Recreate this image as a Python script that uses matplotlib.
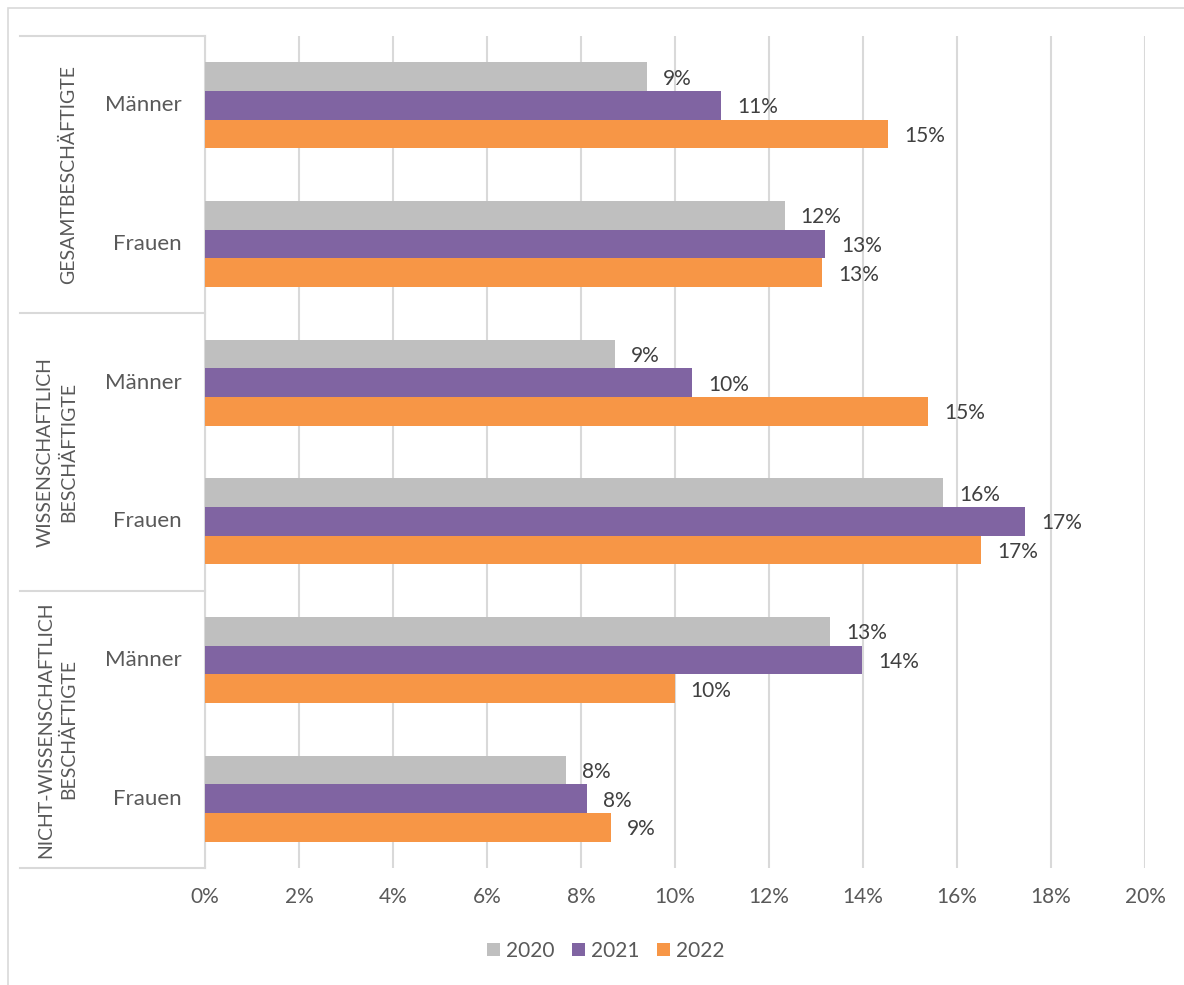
import matplotlib
matplotlib.use("Agg")
import matplotlib.pyplot as plt
from matplotlib.patches import Rectangle
from matplotlib.lines import Line2D
from matplotlib.transforms import blended_transform_factory
import numpy as np

# Data (share in percent)
groups = ["GESAMTBESCHÄFTIGTE",
          "WISSENSCHAFTLICH\nBESCHÄFTIGTE",
          "NICHT-WISSENSCHAFTLICH\nBESCHÄFTIGTE"]
genders = ["Männer", "Frauen"]
years = ["2020", "2021", "2022"]
values_2020 = [9.4, 12.33, 8.72, 15.7, 13.3, 7.68]
values_2021 = [10.98, 13.2, 10.37, 17.45, 13.98, 8.12]
values_2022 = [14.53, 13.13, 15.38, 16.52, 9.99, 8.63]
x_ticks = [0, 2, 4, 6, 8, 10, 12, 14, 16, 18, 20]

colors = ["#BFBFBF", "#8064A2", "#F79646"]
text_dark = "#404040"
text_mid = "#595959"
grid_col = "#D9D9D9"

plt.rcParams["font.family"] = ["Lato", "DejaVu Sans"]

W, H = 1184, 985
fig = plt.figure(figsize=(W / 100, H / 100), dpi=100)

# outer chart border
fig.patches.append(Rectangle((8 / W, -0.01), 1.1, 1 - 8 / H + 0.01,
                             transform=fig.transFigure, fill=False,
                             edgecolor=grid_col, linewidth=1.2))

left, right, top, bottom = 205, 1145, 36, 868
ax = fig.add_axes([left / W, 1 - bottom / H, (right - left) / W, (bottom - top) / H])

n_cat = len(groups) * len(genders)
y = np.arange(n_cat)
bh = 0.207
series = [values_2020, values_2021, values_2022]
for k, (vals, col, yr) in enumerate(zip(series, colors, years)):
    ypos = y + (k - 1) * bh
    ax.barh(ypos, vals, height=bh, color=col, label=yr, zorder=3)
    for yy, v in zip(ypos, vals):
        ax.annotate(f"{v:.0f}%", (v, yy), xytext=(16, -2), textcoords="offset pixels",
                    ha="left", va="center", fontsize=15, color=text_dark)

ax.set_xlim(0, 20)
ax.set_ylim(n_cat - 0.5, -0.5)
ax.set_xticks(x_ticks)
ax.set_xticklabels([f"{t}%" for t in x_ticks], fontsize=15, color=text_mid)
ax.tick_params(axis="x", length=0, pad=14)
ax.set_yticks([])
ax.grid(axis="x", color=grid_col, linewidth=1.5, zorder=0)
for s in ["top", "right", "bottom"]:
    ax.spines[s].set_visible(False)
ax.spines["left"].set_color(grid_col)
ax.spines["left"].set_linewidth(1.5)

# category table on the left
axw = right - left
trans = blended_transform_factory(ax.transAxes, ax.transData)
x0 = (20 - left) / axw
for yb in [-0.5, 1.5, 3.5, 5.5]:
    ax.add_line(Line2D([x0, 0], [yb, yb], transform=trans, color=grid_col,
                       linewidth=1.5, clip_on=False))

for i in range(n_cat):
    ax.text((182 - left) / axw, y[i], genders[i % 2], transform=trans,
            ha="right", va="center", fontsize=16, color=text_mid)

for g, name in enumerate(groups):
    ax.text((77 - left) / axw, 2 * g + 0.5, name, transform=trans, rotation=90,
            rotation_mode="anchor", ha="center", va="bottom", fontsize=14,
            color=text_mid, linespacing=1.4, multialignment="center")

leg = fig.legend(loc="center", bbox_to_anchor=(606 / W, 1 - 951 / H), ncol=3,
                 frameon=False, fontsize=15, handlelength=0.6, handleheight=0.6,
                 handletextpad=0.3, columnspacing=0.85)
for t in leg.get_texts():
    t.set_color(text_mid)

fig.savefig("out.png", dpi=100)
